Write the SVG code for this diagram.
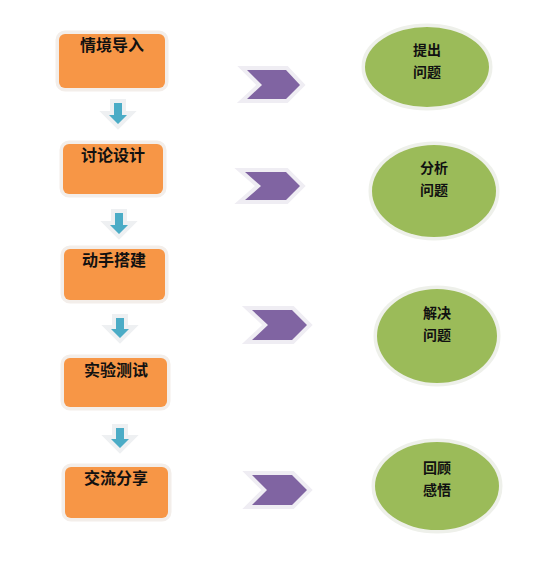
<svg xmlns="http://www.w3.org/2000/svg" width="540" height="568" viewBox="0 0 540 568">
<style>
.box{fill:#f79646;stroke:#f3eeea;stroke-width:7;paint-order:stroke}
.ell{fill:#9bbb59;stroke:#eef0ea;stroke-width:7;paint-order:stroke}
.chev{fill:#8064a2;stroke:#efedf3;stroke-width:8;stroke-linejoin:miter;paint-order:stroke}
.dn{fill:#4bacc6;stroke:#eef0f2;stroke-width:8;stroke-linejoin:miter;paint-order:stroke}
.t{font-family:"Noto Sans CJK SC","Liberation Sans",sans-serif;font-weight:bold;fill:#111;text-anchor:middle}
.bt{font-size:16px}
.et{font-size:14px}
</style>
<rect width="540" height="568" fill="#ffffff"/>
<g id="connectors">
<path class="dn" d="M114,103 h8 v12 h5 l-9,9 l-9,-9 h5 z"/>
<path class="dn" d="M115,213 h8 v12 h5 l-9,9 l-9,-9 h5 z"/>
<path class="dn" d="M116,318 h8 v11 h5 l-9,9 l-9,-9 h5 z"/>
<path class="dn" d="M116,428 h8 v11 h5 l-9,9 l-9,-9 h5 z"/>
<polygon class="chev" points="247,70 286,70 300,85 286,99 247,99 262,85"/>
<polygon class="chev" points="245,172 286,172 300,186 286,200 245,200 261,186"/>
<polygon class="chev" points="252,310 292,310 307,325 292,340 252,340 268,325"/>
<polygon class="chev" points="252,475 292,475 307,490 292,505 252,505 267,490"/>
</g>
<g id="n1"><rect class="box" x="59" y="34" width="106" height="54" rx="6"/><text class="t bt" x="112" y="51">情境导入</text></g>
<g id="n2"><rect class="box" x="63" y="144" width="100" height="50" rx="6"/><text class="t bt" x="113" y="161">讨论设计</text></g>
<g id="n3"><rect class="box" x="64" y="249" width="101" height="51" rx="6"/><text class="t bt" x="114" y="266">动手搭建</text></g>
<g id="n4"><rect class="box" x="64" y="358" width="103" height="49" rx="6"/><text class="t bt" x="116" y="376">实验测试</text></g>
<g id="n5"><rect class="box" x="65" y="467" width="103" height="51" rx="6"/><text class="t bt" x="116" y="484">交流分享</text></g>
<g id="e1"><ellipse class="ell" cx="427" cy="67" rx="62" ry="40"/><text class="t et" x="427" y="55">提出</text><text class="t et" x="427" y="77">问题</text></g>
<g id="e2"><ellipse class="ell" cx="434" cy="191" rx="62" ry="46"/><text class="t et" x="434" y="173">分析</text><text class="t et" x="434" y="195">问题</text></g>
<g id="e3"><ellipse class="ell" cx="437" cy="336" rx="60" ry="47"/><text class="t et" x="437" y="318">解决</text><text class="t et" x="437" y="340">问题</text></g>
<g id="e4"><ellipse class="ell" cx="437" cy="486" rx="62" ry="44"/><text class="t et" x="437" y="473">回顾</text><text class="t et" x="437" y="495">感悟</text></g>
</svg>
